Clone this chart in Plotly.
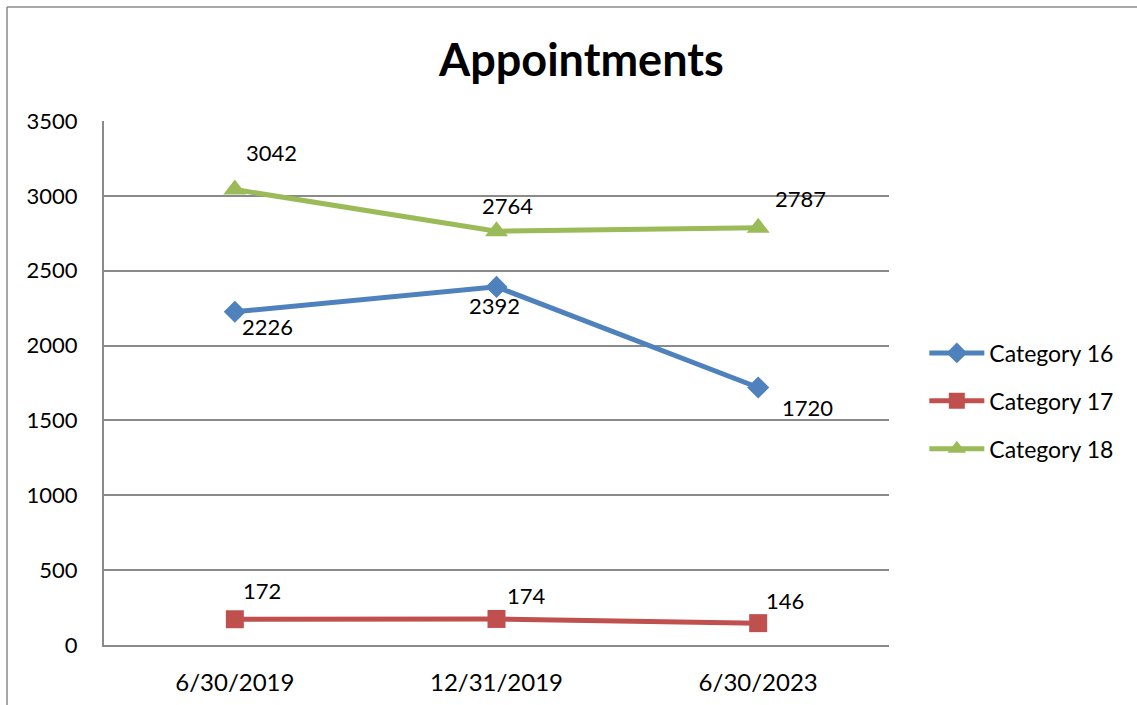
import plotly.graph_objects as go

categories = ["6/30/2019", "12/31/2019", "6/30/2023"]
cat16 = [2226, 2392, 1720]
cat17 = [172, 174, 146]
cat18 = [3042, 2764, 2787]
series_names = ["Category 16", "Category 17", "Category 18"]
y_ticks = [0, 500, 1000, 1500, 2000, 2500, 3000, 3500]

colors = ["#4F81BD", "#C0504D", "#9BBB59"]
symbols = ["diamond", "square", "triangle-up"]
sizes = [17, 18, 20]
# label offsets (px) per series per point
offsets = [
    [(33, -15), (-2, -19), (49, -20)],
    [(27, 29), (30, 23), (27, 23)],
    [(37, 37), (11, 26), (42, 29)],
]

FONT = "Lato, Carlito, 'Open Sans', sans-serif"
fig = go.Figure()
xs = list(range(len(categories)))
for k, (vals, name, c, s, sz) in enumerate(zip([cat16, cat17, cat18], series_names, colors, symbols, sizes)):
    fig.add_trace(go.Scatter(
        x=xs, y=vals, name=name, mode="lines+markers", legendgroup="g%d" % k,
        line=dict(color=c, width=5),
        marker=dict(symbol=s, size=sz, color=c),
    ))

annotations = []
for vals, offs in zip([cat16, cat17, cat18], offsets):
    for i, (v, (dx, dy)) in enumerate(zip(vals, offs)):
        annotations.append(dict(
            x=i, y=v, xref="x", yref="y", text=str(v), showarrow=False,
            xshift=dx, yshift=dy, font=dict(size=22, color="black", family=FONT),
        ))

annotations.append(dict(
    x=(581 - 104) / 785, y=(645 - 59) / 524, xref="paper", yref="paper",
    xanchor="center", yanchor="middle",
    text="<b>Appointments</b>", showarrow=False,
    font=dict(size=45, color="black", family=FONT),
))

fig.update_layout(
    width=1137, height=705,
    margin=dict(l=104, r=248, t=121, b=60, autoexpand=False),
    paper_bgcolor="white", plot_bgcolor="white",
    font=dict(family=FONT, size=22, color="black"),
    showlegend=True,
    legend=dict(x=1.045, y=(645 - 401) / 524, xanchor="left", yanchor="middle",
                font=dict(size=23, family=FONT), bgcolor="rgba(0,0,0,0)",
                tracegroupgap=15, itemwidth=55),
    annotations=annotations,
    shapes=[
        dict(type="line", xref="paper", yref="paper",
             x0=(7 - 104) / 785, x1=(7 - 104) / 785, y0=(645 - 7) / 524, y1=(645 - 720) / 524,
             line=dict(color="#8a8a8a", width=1.5)),
        dict(type="line", xref="paper", yref="paper",
             x0=(7 - 104) / 785, x1=(1150 - 104) / 785, y0=(645 - 7) / 524, y1=(645 - 7) / 524,
             line=dict(color="#8a8a8a", width=1.5)),
    ],
)
fig.update_xaxes(
    range=[-0.5, 2.5], tickvals=xs, ticktext=categories,
    showgrid=False, showline=True, linecolor="#8a8a8a", linewidth=2,
    ticks="", ticklabelstandoff=15, tickfont=dict(size=24, family=FONT),
    zeroline=False, automargin=False,
)
fig.update_yaxes(
    range=[0, 3500], tickvals=y_ticks,
    showgrid=True, gridcolor="#8a8a8a", gridwidth=1.5,
    showline=True, linecolor="#8a8a8a", linewidth=2,
    ticks="", ticklabelstandoff=20, tickfont=dict(size=22, family=FONT),
    zeroline=False, automargin=False,
)
fig.write_html("out.html")
